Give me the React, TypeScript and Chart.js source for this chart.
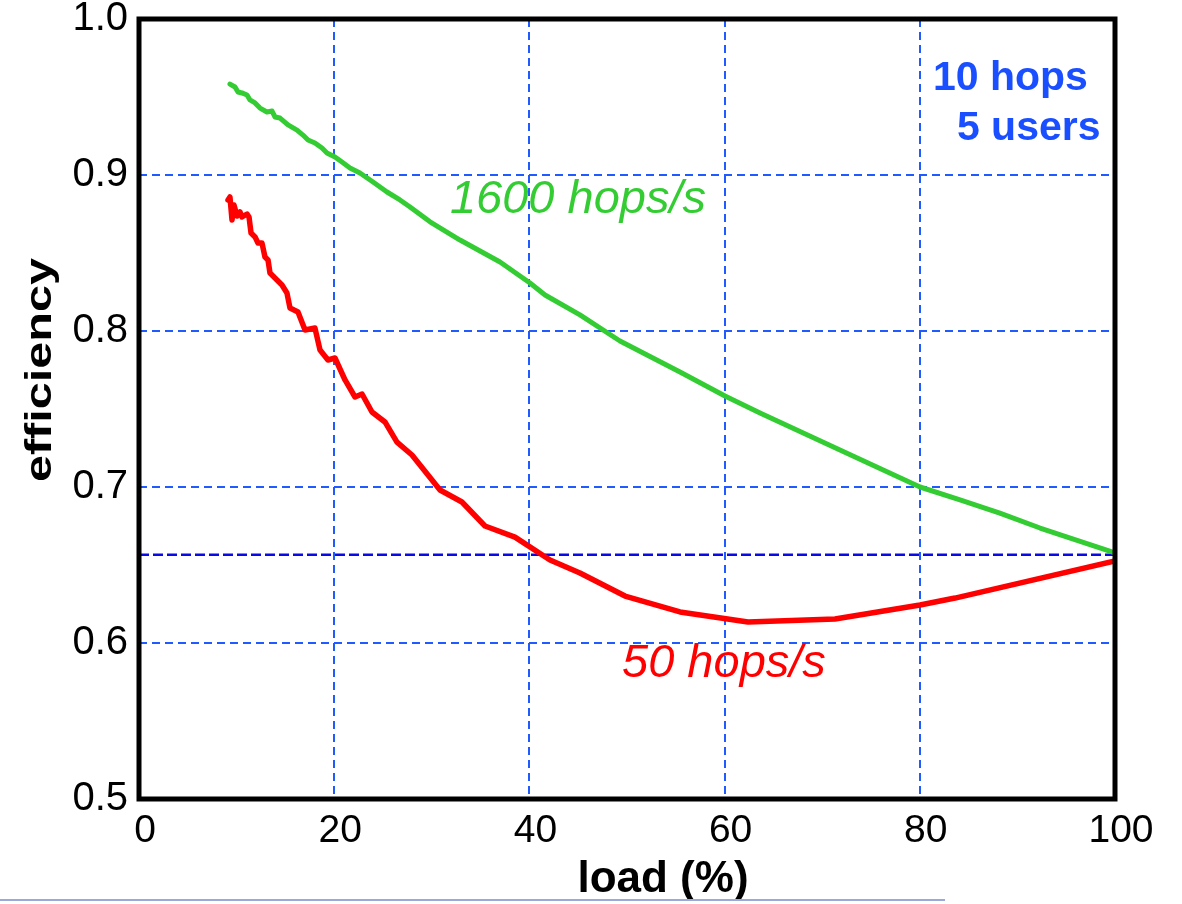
import React, { useEffect, useRef } from "react";
import { Chart, registerables } from "chart.js";

Chart.register(...registerables);

// ---- data ----
const greenLoad = [9.32, 9.84, 10.14, 10.55, 11.07, 11.37, 11.89, 12.4, 13.11, 13.63, 13.93, 14.45, 15.27, 16.19, 16.8, 17.32, 18.03, 18.75, 19.26, 20.08, 20.8, 21.62, 22.64, 23.98, 25.41, 26.74, 27.77, 29.82, 32.89, 36.99, 40.06, 41.6, 45.18, 49.28, 55.43, 60.04, 63.63, 71.82, 80.02, 84.12, 88.2, 92.32, 100];
const greenEff = [0.9583, 0.9564, 0.9532, 0.9526, 0.9513, 0.9481, 0.9462, 0.9429, 0.9404, 0.941, 0.9372, 0.9365, 0.9321, 0.9288, 0.9256, 0.9224, 0.9205, 0.9173, 0.9141, 0.9115, 0.9083, 0.9045, 0.9013, 0.8955, 0.8891, 0.884, 0.8795, 0.87, 0.8583, 0.8442, 0.8308, 0.8231, 0.8103, 0.7936, 0.7737, 0.7583, 0.7474, 0.7237, 0.7, 0.6917, 0.6833, 0.6737, 0.6577];

const redLoad = [9.12, 9.32, 9.53, 9.73, 10.04, 10.35, 10.55, 11.07, 11.27, 11.48, 11.89, 12.19, 12.6, 12.91, 13.22, 13.42, 14.14, 14.65, 15.16, 15.47, 16.29, 17.01, 18.03, 18.55, 19.36, 20.08, 21.11, 22.13, 22.85, 23.87, 25.2, 26.43, 27.97, 30.84, 33.09, 35.45, 38.52, 42.11, 45.18, 49.8, 55.43, 62.4, 71.31, 80.02, 83.61, 100];
const redEff = [0.884, 0.8859, 0.8712, 0.8808, 0.8737, 0.8763, 0.8731, 0.875, 0.8731, 0.8628, 0.8603, 0.8564, 0.8564, 0.8474, 0.8455, 0.8372, 0.8327, 0.8295, 0.8244, 0.8147, 0.8122, 0.8006, 0.8019, 0.7878, 0.7814, 0.7827, 0.7686, 0.7577, 0.7596, 0.7481, 0.7417, 0.7288, 0.7205, 0.6981, 0.6904, 0.675, 0.6679, 0.6532, 0.6449, 0.6301, 0.6199, 0.6135, 0.6154, 0.6244, 0.6288, 0.6526];

const refLoad = [0, 100];
const refEff = [0.6565, 0.6565];

const xTicks = [0, 20, 40, 60, 80, 100];
const yTicks = [0.5, 0.6, 0.7, 0.8, 0.9, 1.0];

const greenLabel = "1600 hops/s";
const redLabel = "50 hops/s";
const infoLines = ["10 hops", "5 users"];
const xTitle = "load (%)";
const yTitle = "efficiency";

const toPts = (xs: number[], ys: number[]) => xs.map((x, i) => ({ x, y: ys[i] }));

const FONT = '"Liberation Sans", Arial, Helvetica, sans-serif';
const GRID_BLUE = "#1f5bff";

export default function App() {
  const ref = useRef<HTMLCanvasElement | null>(null);

  useEffect(() => {
    if (!ref.current) return;

    const decor = {
      id: "decor",
      afterDatasetsDraw(chart: any) {
        const { ctx, chartArea: a, scales } = chart;
        const xs = scales.x;
        const ys = scales.y;
        ctx.save();
        // frame
        ctx.strokeStyle = "#000";
        ctx.lineWidth = 5;
        ctx.strokeRect(a.left, a.top, a.right - a.left, a.bottom - a.top);

        // curve labels
        ctx.textBaseline = "alphabetic";
        ctx.textAlign = "left";
        ctx.font = `italic 47px ${FONT}`;
        ctx.fillStyle = "#33cc33";
        ctx.fillText(greenLabel, xs.getPixelForValue(31.86), ys.getPixelForValue(0.8756));
        ctx.fillStyle = "#ff0000";
        ctx.fillText(redLabel, xs.getPixelForValue(49.49), ys.getPixelForValue(0.5782));

        // info text
        ctx.font = `bold 41px ${FONT}`;
        ctx.fillStyle = "#1a4fff";
        ctx.fillText(infoLines[0], xs.getPixelForValue(81.35), ys.getPixelForValue(0.9545));
        ctx.fillText(infoLines[1], xs.getPixelForValue(83.8), ys.getPixelForValue(0.9224));

        // axis titles
        ctx.fillStyle = "#000";
        ctx.font = `bold 44px ${FONT}`;
        ctx.textAlign = "center";
        ctx.fillText(xTitle, 663, 892);

        ctx.save();
        ctx.translate(41, 370);
        ctx.rotate(-Math.PI / 2);
        ctx.scale(1.35, 1);
        ctx.font = `bold 36px ${FONT}`;
        ctx.textBaseline = "middle";
        ctx.fillText(yTitle, 0, 0);
        ctx.restore();

        ctx.restore();
      },
    };

    const gridColor = (edgeA: number, edgeB: number) => (c: any) => {
      const v = c.tick ? c.tick.value : NaN;
      if (Math.abs(v - edgeA) < 1e-6 || Math.abs(v - edgeB) < 1e-6) return "rgba(0,0,0,0)";
      return GRID_BLUE;
    };

    const chart = new Chart(ref.current, {
      type: "line",
      data: {
        datasets: [
          {
            label: greenLabel,
            data: toPts(greenLoad, greenEff),
            borderColor: "#33cc33",
            borderWidth: 5,
            borderJoinStyle: "round",
            borderCapStyle: "round",
            pointRadius: 0,
            tension: 0,
            fill: false,
          },
          {
            label: redLabel,
            data: toPts(redLoad, redEff),
            borderColor: "#ff0000",
            borderWidth: 5.5,
            borderJoinStyle: "round",
            borderCapStyle: "round",
            pointRadius: 0,
            tension: 0,
            fill: false,
          },
          {
            label: "reference",
            data: toPts(refLoad, refEff),
            borderColor: "#0a0ae6",
            borderWidth: 2.5,
            borderDash: [10, 4],
            pointRadius: 0,
            tension: 0,
            fill: false,
          },
        ],
      },
      options: {
        responsive: false,
        animation: false,
        devicePixelRatio: 1,
        layout: { padding: { top: 19, right: 67, left: 0, bottom: 0 } },
        plugins: { legend: { display: false }, tooltip: { enabled: false }, title: { display: false } },
        scales: {
          x: {
            type: "linear",
            min: 0,
            max: 100,
            afterFit: (s: any) => {
              s.height = 105;
              s.paddingLeft = 0;
              s.paddingRight = 0;
            },
            afterBuildTicks: (s: any) => {
              s.ticks = xTicks.map((v) => ({ value: v }));
            },
            ticks: {
              color: "#000",
              font: { family: FONT, size: 39, lineHeight: 1.0 },
              padding: 13,
              labelOffset: 6,
              maxRotation: 0,
              autoSkip: false,
              callback: (v: any) => String(v),
            },
            grid: { color: gridColor(0, 100), lineWidth: 2, drawTicks: false },
            border: { display: false, dash: [8, 5] },
          },
          y: {
            type: "linear",
            min: 0.5,
            max: 1.0,
            afterFit: (s: any) => {
              s.width = 139;
              s.paddingTop = 0;
              s.paddingBottom = 0;
            },
            afterBuildTicks: (s: any) => {
              s.ticks = yTicks.map((v) => ({ value: v }));
            },
            ticks: {
              color: "#000",
              font: { family: FONT, size: 40, lineHeight: 0.9 },
              padding: 11,
              autoSkip: false,
              callback: (v: any) => Number(v).toFixed(1),
            },
            grid: { color: gridColor(0.5, 1.0), lineWidth: 2, drawTicks: false },
            border: { display: false, dash: [8, 5] },
          },
        },
      },
      plugins: [decor],
    } as any);

    return () => chart.destroy();
  }, []);

  return (
    <div style={{ position: "absolute", left: 0, top: 0, width: 1182, height: 904, background: "#fff" }}>
      <canvas ref={ref} width={1182} height={904} style={{ display: "block", width: 1182, height: 904 }} />
      <div style={{ position: "absolute", left: 0, top: 899, width: 945, height: 2, background: "#9aa9d8" }} />
    </div>
  );
}
